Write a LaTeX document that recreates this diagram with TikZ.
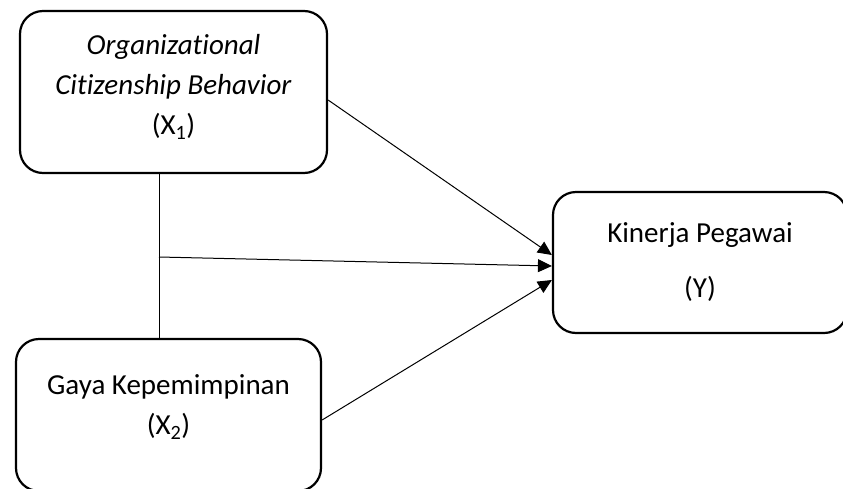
\documentclass[tikz,border=0pt]{standalone}
\usepackage{fontspec}
\setmainfont{Carlito}[Ligatures=NoCommon]
\usepackage{tikz}
\usetikzlibrary{calc}
\usetikzlibrary{positioning}
\usetikzlibrary{arrows.meta}

\begin{document}
\begin{tikzpicture}[x=1pt, y=-1pt, >={Triangle[length=14pt,width=13pt]},
		every node/.style={font=\fontsize{29}{40}\selectfont}]
			\tikzset{kotak/.style={draw, rounded corners=23pt, line width=2.2pt, align=center}}
			\useasboundingbox (0,0) rectangle (843,488);
			\node[kotak, minimum width=307pt, minimum height=162pt] (x1) at (173.5,92)
				{\textit{Organizational}\\\textit{Citizenship Behavior}\\(X\textsubscript{1})\rule[-15pt]{0pt}{1pt}};
			\node[kotak, minimum width=305pt, minimum height=152pt] (x2) at (168.5,415)
				{Gaya Kepemimpinan\\(X\textsubscript{2})\rule[-20pt]{0pt}{1pt}};
			\node[kotak, minimum width=294pt, minimum height=141pt] (y) at (700,262.5)
				{Kinerja Pegawai\\[15pt](Y)};
			\coordinate (mid) at (159,257);
			\draw[line width=0.8pt] (mid |- x1.south) -- (mid |- x2.north);
			\draw[->,line width=1pt] ([yshift=-8pt]x1.east) -- ([yshift=7.5pt]y.west);
			\draw[->,line width=1pt] (mid) -- ([yshift=-3.5pt]y.west);
			\draw[->,line width=1pt] ([yshift=-5pt]x2.east) -- ([yshift=-17.5pt]y.west);
		\end{tikzpicture}
\end{document}
